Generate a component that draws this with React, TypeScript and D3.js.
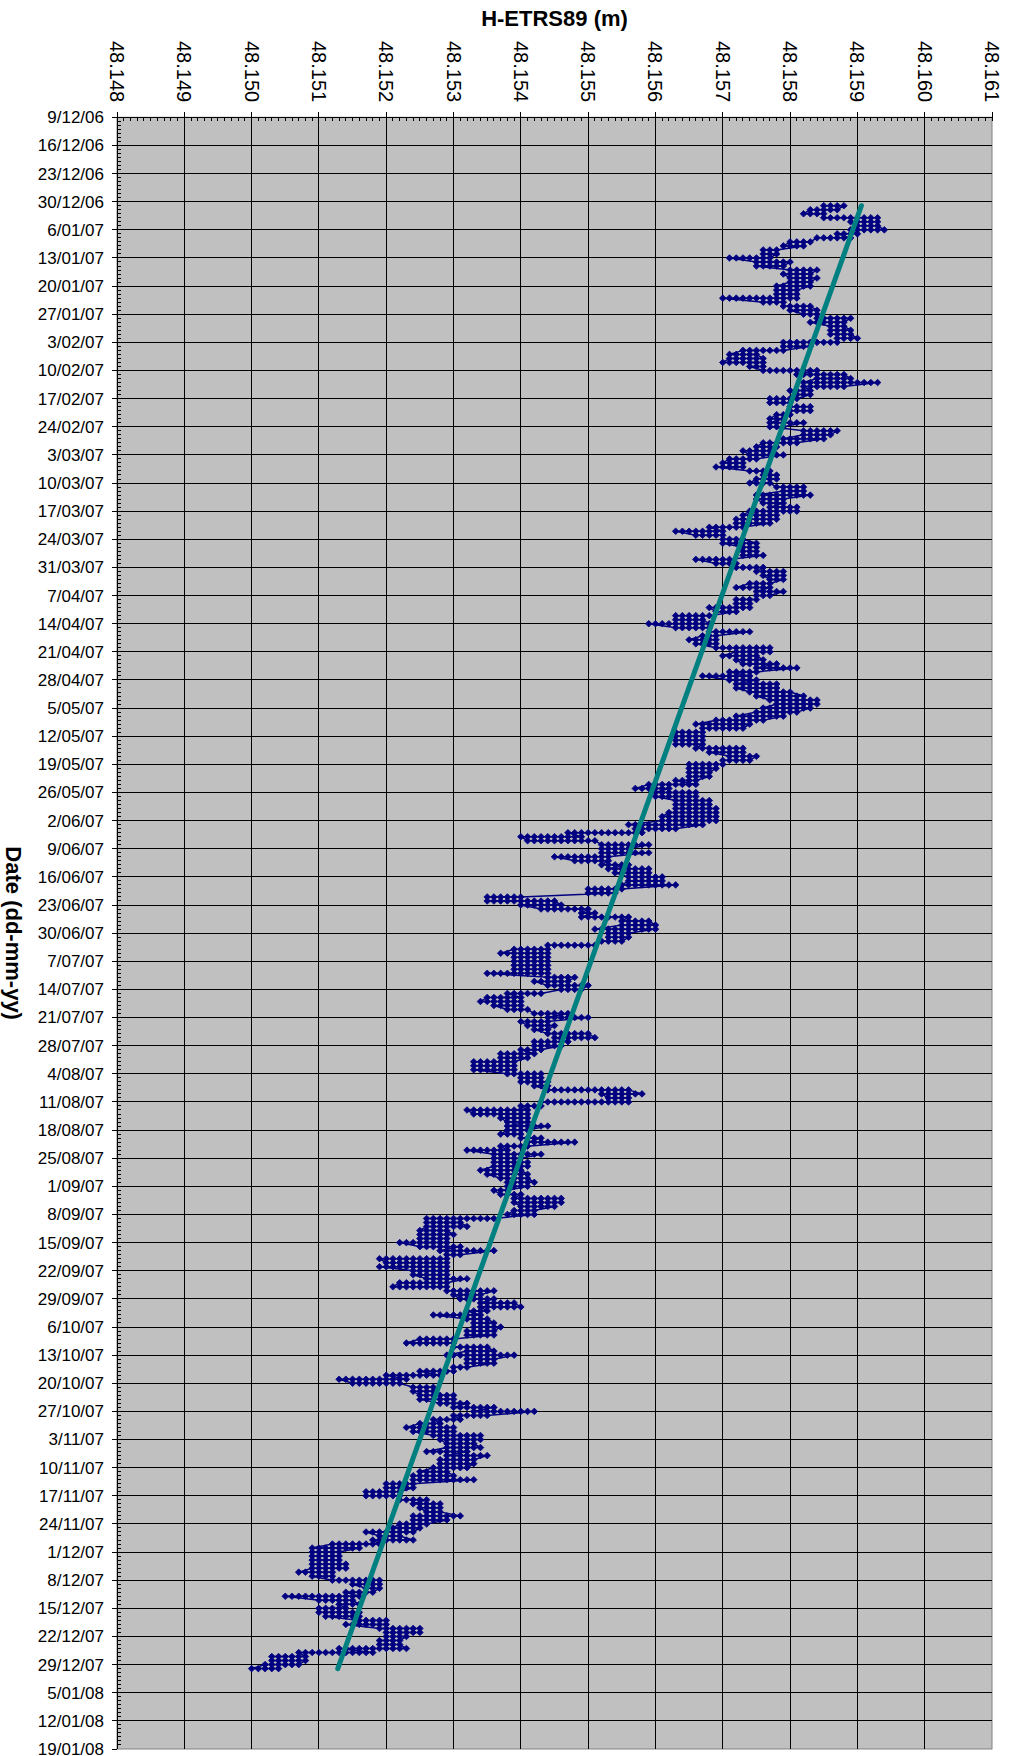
"use client"

import React, { useEffect, useRef } from 'react'
import * as d3 from 'd3'

// Daily H-ETRS89 readings: [lowest, highest] level reached that day, counted in
// 0.1 mm steps above 48.150 m (the solutions are quantised to 0.1 mm)
const BASE_HEIGHT = 48.15
const STEP = 0.0001
const firstDay = '2006-12-31'
const dailyRange: [number, number][] = [
    // 31/12/06 - 25/02/07
    [85, 88], [83, 87], [82, 85], [85, 93], [89, 93], [90, 93], [89, 94], [87, 90], [84, 89], [80, 83],
    [79, 82], [76, 78], [76, 78], [71, 77], [75, 80], [75, 79], [80, 84], [79, 83], [80, 84], [80, 83],
    [78, 83], [78, 81], [78, 81], [70, 81], [76, 79], [79, 83], [80, 84], [82, 84], [84, 89], [83, 88],
    [86, 88], [86, 89], [86, 89], [87, 90], [79, 87], [79, 83], [73, 79], [71, 75], [71, 76], [70, 76],
    [74, 76], [76, 84], [81, 88], [84, 89], [82, 93], [82, 88], [80, 83], [81, 83], [77, 81], [77, 80],
    [80, 83], [80, 83], [78, 80], [77, 79], [77, 82], [77, 79], [82, 87], [82, 86],
    // 27/02/07 - 29/04/07
    [79, 85], [76, 81], [75, 78], [73, 77], [74, 79], [71, 75], [70, 73], [69, 73], [74, 77], [76, 78],
    [75, 78], [74, 77], [78, 82], [79, 82], [75, 83], [75, 79], [76, 79], [77, 81], [74, 81], [73, 78],
    [72, 78], [72, 77], [68, 73], [63, 70], [66, 70], [70, 73], [70, 75], [73, 75], [73, 75], [73, 76],
    [66, 71], [69, 72], [72, 76], [75, 79], [76, 79], [77, 79], [74, 77], [72, 77], [75, 79], [75, 77],
    [72, 75], [72, 74], [68, 74], [69, 72], [63, 68], [63, 67], [59, 68], [63, 68], [68, 74], [67, 69],
    [65, 69], [66, 69], [69, 77], [72, 77], [70, 75], [72, 76], [73, 78], [75, 81], [71, 75], [67, 74],
    [71, 75], [72, 78],
    // 30/04/07 - 1/07/07
    [72, 78], [74, 80], [75, 82], [77, 84], [78, 84], [76, 83], [75, 81], [72, 79], [69, 76], [66, 74],
    [67, 73], [63, 67], [63, 67], [63, 67], [63, 67], [66, 73], [68, 73], [71, 75], [70, 74], [65, 70],
    [65, 69], [65, 68], [65, 68], [63, 66], [59, 66], [57, 62], [60, 66], [60, 66], [63, 68], [63, 68],
    [63, 69], [62, 69], [61, 69], [61, 69], [56, 67], [57, 63], [47, 58], [40, 49], [41, 51], [52, 59],
    [52, 56], [52, 59], [45, 53], [48, 53], [52, 56], [53, 59], [54, 59], [56, 61], [56, 61], [55, 63],
    [50, 55], [50, 54], [35, 40], [35, 45], [40, 46], [43, 50], [49, 51], [49, 56], [55, 59], [55, 60],
    [51, 60], [53, 56], [53, 56],
    // 2/07/07 - 1/09/07
    [52, 55], [44, 51], [39, 44], [37, 44], [39, 44], [39, 44], [39, 44], [39, 44], [35, 44], [44, 48],
    [42, 47], [44, 50], [46, 49], [38, 43], [35, 40], [34, 40], [36, 40], [38, 41], [42, 47], [44, 50],
    [40, 44], [41, 45], [42, 44], [44, 50], [45, 51], [42, 47], [42, 46], [40, 43], [37, 42], [37, 41],
    [33, 39], [33, 39], [33, 39], [38, 43], [40, 43], [40, 44], [42, 44], [44, 56], [52, 58], [53, 56],
    [43, 56], [40, 43], [32, 41], [33, 41], [37, 41], [38, 41], [38, 44], [38, 41], [37, 40], [40, 43],
    [41, 48], [37, 41], [32, 38], [36, 43], [36, 40], [36, 41], [36, 41], [34, 40], [35, 41], [37, 41],
    [38, 42], [38, 41],
    // 2/09/07 - 2/11/07
    [36, 38], [37, 40], [39, 46], [39, 46], [40, 45], [39, 42], [38, 42], [26, 36], [26, 31], [26, 32],
    [25, 29], [25, 30], [25, 29], [22, 29], [25, 31], [28, 36], [29, 31], [19, 29], [20, 29], [19, 29],
    [24, 29], [24, 29], [26, 32], [22, 29], [21, 29], [29, 36], [30, 34], [31, 36], [34, 39], [34, 40],
    [32, 35], [27, 34], [32, 35], [33, 36], [33, 37], [32, 36], [32, 36], [25, 30], [23, 30], [30, 35],
    [32, 36], [29, 39], [32, 36], [32, 36], [30, 32], [25, 30], [20, 28], [13, 23], [15, 22], [24, 27],
    [24, 27], [25, 30], [25, 30], [28, 32], [30, 36], [33, 42], [30, 35], [27, 31], [25, 28], [23, 30],
    [24, 30], [27, 34],
    // 3/11/07 - 30/12/07
    [28, 34], [29, 33], [29, 34], [26, 32], [29, 35], [28, 33], [28, 33], [27, 32], [25, 29], [24, 30],
    [24, 33], [20, 24], [20, 24], [17, 22], [17, 22], [22, 26], [24, 28], [25, 28], [26, 28], [24, 31],
    [24, 29], [22, 26], [21, 25], [17, 24], [19, 22], [18, 24], [12, 19], [9, 16], [9, 13], [9, 13],
    [9, 13], [9, 14], [9, 14], [7, 12], [9, 12], [12, 19], [15, 19], [17, 19], [14, 18], [5, 16],
    [10, 15], [13, 16], [10, 14], [10, 16], [11, 16], [16, 20], [14, 20], [19, 25], [20, 25], [20, 23],
    [19, 22], [19, 22], [13, 23], [7, 18], [3, 8], [3, 8], [2, 7], [0, 4],
]

// linear trend, end points
const trendDates = ['2006-12-31', '2007-12-30']
const trendHeights = [48.15906, 48.15128]

const xTicks = [48.148, 48.149, 48.150, 48.151, 48.152, 48.153, 48.154, 48.155, 48.156, 48.157, 48.158, 48.159, 48.160, 48.161]
const dateStart = '2006-12-09'
const dateEnd = '2008-01-19'

const W = 1011
const H = 1756

export default function App() {
    const svgRef = useRef<SVGSVGElement>(null)

    useEffect(() => {
        if (!svgRef.current) return
        const svg = d3.select(svgRef.current)
        svg.selectAll("*").remove()

        const left = 117, right = 992, top = 117.3, bottom = 1749
        const font = '"Liberation Sans", Arial, Helvetica, sans-serif'
        const parse = d3.utcParse('%Y-%m-%d')
        const start = parse(dateStart) as Date
        const end = parse(dateEnd) as Date

        const x = d3.scaleLinear()
            .domain([xTicks[0], xTicks[xTicks.length - 1]])
            .range([left, right])
        const y = d3.scaleUtc()
            .domain([start, end])
            .range([top, bottom])

        const weeks = d3.range(0, d3.utcDay.count(start, end) / 7 + 1).map(i => d3.utcDay.offset(start, i * 7))
        const days = d3.utcDay.range(start, end)
        const minorX = d3.range(0, (xTicks.length - 1) * 10 + 1).map(i => xTicks[0] + i * STEP)

        // plot area
        svg.append("rect")
            .attr("x", left).attr("y", top)
            .attr("width", right - left).attr("height", bottom - top)
            .attr("fill", "#c0c0c0")
            .attr("stroke", "#808080")

        // grid
        const grid = svg.append("g").attr("stroke", "#000").attr("stroke-width", 1).attr("shape-rendering", "crispEdges")
        grid.selectAll(".gx")
            .data(xTicks.slice(1, -1))
            .enter().append("line")
            .attr("x1", d => x(d)).attr("x2", d => x(d))
            .attr("y1", top - 5).attr("y2", bottom)
        grid.selectAll(".gy")
            .data(weeks.slice(1, -1))
            .enter().append("line")
            .attr("x1", left - 5).attr("x2", right)
            .attr("y1", d => y(d)).attr("y2", d => y(d))

        // axis lines + ticks
        const axes = svg.append("g").attr("stroke", "#000").attr("stroke-width", 1).attr("shape-rendering", "crispEdges")
        axes.append("line").attr("x1", left).attr("x2", left).attr("y1", top - 5).attr("y2", bottom)
        axes.append("line").attr("x1", left - 5).attr("x2", right).attr("y1", top).attr("y2", top)
        axes.selectAll(".tx")
            .data([xTicks[0], xTicks[xTicks.length - 1]])
            .enter().append("line")
            .attr("x1", d => x(d)).attr("x2", d => x(d))
            .attr("y1", top - 5).attr("y2", top)
        axes.selectAll(".ty")
            .data([weeks[weeks.length - 1]])
            .enter().append("line")
            .attr("x1", left - 5).attr("x2", left)
            .attr("y1", d => y(d)).attr("y2", d => y(d))
        axes.selectAll(".mx")
            .data(minorX)
            .enter().append("line")
            .attr("x1", d => x(d)).attr("x2", d => x(d))
            .attr("y1", top).attr("y2", top + 4)
        axes.selectAll(".my")
            .data(days)
            .enter().append("line")
            .attr("x1", left).attr("x2", left + 4)
            .attr("y1", d => y(d)).attr("y2", d => y(d))

        // tick labels
        svg.append("g")
            .selectAll("text")
            .data(xTicks)
            .enter().append("text")
            .attr("transform", d => `translate(${x(d)},41) rotate(90)`)
            .attr("dy", "0.35em")
            .attr("text-anchor", "start")
            .attr("font-family", font)
            .attr("font-size", "20px")
            .attr("fill", "#000")
            .text(d => d3.format(".3f")(d))

        const fmtDate = d3.utcFormat('%-d/%m/%y')
        svg.append("g")
            .selectAll("text")
            .data(weeks)
            .enter().append("text")
            .attr("x", 104)
            .attr("y", d => y(d))
            .attr("dy", "0.35em")
            .attr("text-anchor", "end")
            .attr("font-family", font)
            .attr("font-size", "17px")
            .attr("fill", "#000")
            .text(d => fmtDate(d))

        // titles
        svg.append("text")
            .attr("x", (left + right) / 2)
            .attr("y", 26)
            .attr("text-anchor", "middle")
            .attr("font-family", font)
            .attr("font-weight", "bold")
            .attr("font-size", "22px")
            .text("H-ETRS89 (m)")
        svg.append("text")
            .attr("transform", `translate(14,${(top + bottom) / 2}) rotate(90)`)
            .attr("dy", "0.35em")
            .attr("text-anchor", "middle")
            .attr("font-family", font)
            .attr("font-weight", "bold")
            .attr("font-size", "22px")
            .text("Date (dd-mm-yy)")

        // series: each day's chain of 0.1 mm levels, walked from the end nearest the previous day
        const first = parse(firstDay) as Date
        const pts: { date: Date; h: number }[] = []
        let prev: number | null = null
        dailyRange.forEach(([lo, hi], i) => {
            const date = d3.utcDay.offset(first, i)
            const levels = d3.range(lo, hi + 1)
            if (prev !== null && Math.abs(prev - hi) < Math.abs(prev - lo)) levels.reverse()
            levels.forEach(v => pts.push({ date, h: BASE_HEIGHT + v * STEP }))
            prev = levels[levels.length - 1]
        })

        const line = d3.line<{ date: Date; h: number }>()
            .x(d => x(d.h))
            .y(d => y(d.date))
        svg.append("path")
            .datum(pts)
            .attr("d", line)
            .attr("fill", "none")
            .attr("stroke", "#000080")
            .attr("stroke-width", 1.5)

        svg.append("g")
            .selectAll("path")
            .data(pts)
            .enter().append("path")
            .attr("transform", d => `translate(${x(d.h)},${y(d.date)})`)
            .attr("d", "M0,-3.3L3.3,0L0,3.3L-3.3,0Z")
            .attr("fill", "#000080")
            .attr("stroke", "#000080")
            .attr("stroke-width", 0.8)

        // trend
        const trend = trendDates.map((t, i) => ({ date: parse(t) as Date, h: trendHeights[i] }))
        svg.append("path")
            .datum(trend)
            .attr("d", line)
            .attr("fill", "none")
            .attr("stroke", "#008080")
            .attr("stroke-width", 5)
            .attr("stroke-linecap", "round")
    }, [])

    return (
        <div style={{ position: 'absolute', left: 0, top: 0 }}>
            <svg ref={svgRef} width={W} height={H} viewBox={`0 0 ${W} ${H}`} style={{ display: 'block' }} />
        </div>
    )
}
